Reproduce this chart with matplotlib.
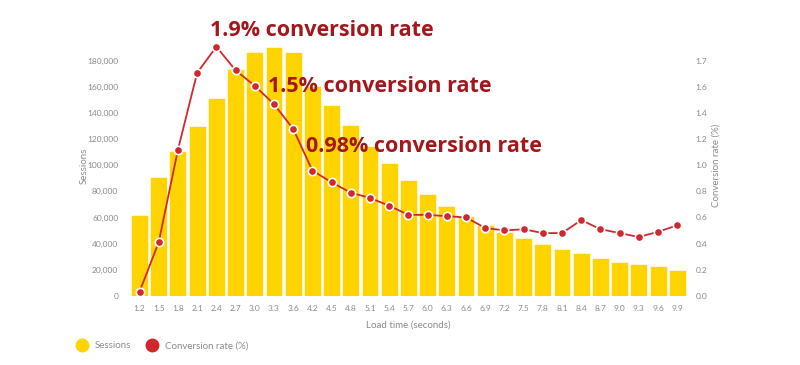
import matplotlib
matplotlib.use('Agg')
from matplotlib import pyplot
from matplotlib.lines import Line2D

load_times = ['1.2', '1.5', '1.8', '2.1', '2.4', '2.7', '3.0', '3.3', '3.6', '4.2',
              '4.5', '4.8', '5.1', '5.4', '5.7', '6.0', '6.3', '6.6', '6.9', '7.2',
              '7.5', '7.8', '8.1', '8.4', '8.7', '9.0', '9.3', '9.6', '9.9']
sessions = [62000, 91000, 111000, 130000, 152000, 174000, 187000, 191000, 187000, 161000,
            146000, 131000, 115000, 101500, 89000, 78000, 68500, 61000, 54500, 48500,
            44500, 40000, 35500, 32500, 29000, 26000, 24500, 22500, 20000]
conv_rate = [0.03, 0.41, 1.12, 1.71, 1.91, 1.73, 1.61, 1.47, 1.28, 0.96,
             0.87, 0.79, 0.75, 0.69, 0.62, 0.62, 0.61, 0.60, 0.52, 0.50,
             0.51, 0.48, 0.48, 0.58, 0.51, 0.48, 0.45, 0.49, 0.54]
left_ticks = [0, 20000, 40000, 60000, 80000, 100000, 120000, 140000, 160000, 180000]
right_ticks = [0.0, 0.2, 0.4, 0.6, 0.8, 1.0, 1.2, 1.4, 1.6, 1.8]
right_labels = ['0.0', '0.2', '0.4', '0.6', '0.8', '1.0', '1.2', '1.4', '1.6', '1.7']
callouts = ['1.9% conversion rate', '1.5% conversion rate', '0.98% conversion rate']

YELLOW = '#FFD400'
RED = '#D0282E'
DARK_RED = '#A5161B'
GREY = '#8a8a8a'

pyplot.rcParams['font.family'] = ['Lato', 'DejaVu Sans']

fig = pyplot.figure(figsize=(8, 3.65), dpi=100)
ax = fig.add_axes([0.16, 0.19, 0.701, 0.714])
ax2 = ax.twinx()

x = list(range(len(load_times)))
ax.bar(x, sessions, width=0.88, color=YELLOW, edgecolor='white', linewidth=0.4, zorder=2)
ax2.plot(x, conv_rate, color=RED, linewidth=1.3, marker='o', markersize=6,
         markerfacecolor=RED, markeredgecolor='white', markeredgewidth=1.2, zorder=3)

ax.set_xlim(-0.6, 28.6)
ax.set_ylim(0, 200000)
ax2.set_ylim(0, 2.0)

ax.set_xticks(x)
ax.set_xticklabels(load_times)
ax.set_yticks(left_ticks)
ax.set_yticklabels([f'{v:,}' for v in left_ticks])
ax2.set_yticks(right_ticks)
ax2.set_yticklabels(right_labels)

for a in (ax, ax2):
    for s in a.spines.values():
        s.set_visible(False)
    a.tick_params(length=0, labelsize=6, labelcolor=GREY)
ax.tick_params(axis='x', pad=7)
ax.tick_params(axis='y', pad=7)
ax2.tick_params(axis='y', pad=5)

ax.set_xlabel('Load time (seconds)', fontsize=7, color=GREY, labelpad=6)
ax.set_ylabel('Sessions', fontsize=7, color=GREY)
ax2.set_ylabel('Conversion rate (%)', fontsize=7, color=GREY)
ax.yaxis.set_label_coords(-0.07, 0.5)
ax2.yaxis.set_label_coords(1.04, 0.5)

ax.set_zorder(ax2.get_zorder() - 1)
ax2.patch.set_visible(False)

callout_font = dict(fontsize=15.5, fontweight='bold', color=DARK_RED, va='center',
                    family=['Open Sans', 'DejaVu Sans'])
fig.text(210 / 800, 1 - 31 / 365, callouts[0], **callout_font)
fig.text(268 / 800, 1 - 87 / 365, callouts[1], **callout_font)
fig.text(306 / 800, 1 - 147 / 365, callouts[2], **callout_font)

handles = [Line2D([], [], linestyle='none', marker='o', markersize=9, color=YELLOW),
           Line2D([], [], linestyle='none', marker='o', markersize=9, color=RED)]
fig.legend(handles, ['Sessions', 'Conversion rate (%)'], loc='center left',
           bbox_to_anchor=(0.085, 1 - 346 / 365), ncol=2, frameon=False, fontsize=7,
           labelcolor=GREY, handletextpad=0.3, columnspacing=1.2, borderaxespad=0)

fig.savefig('out.png', dpi=100)
